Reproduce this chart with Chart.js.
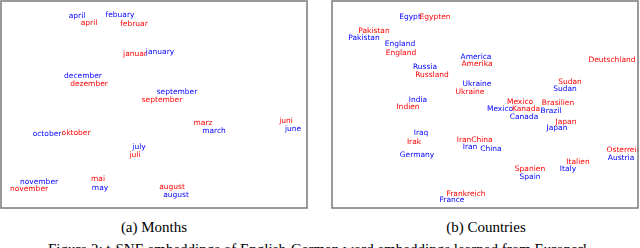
<!DOCTYPE html>
<html><head><meta charset="utf-8">
<script src="https://cdn.jsdelivr.net/npm/chart.js@4/dist/chart.umd.min.js"></script>
<style>
body{margin:0;width:640px;height:248px;background:#fff;position:relative;overflow:hidden}
.p{position:absolute;top:0;width:308px;height:210px}
.cap{position:absolute;font-family:"Liberation Serif","Times New Roman",serif;font-size:15px;line-height:15px;color:#000;white-space:nowrap}
</style></head><body>
<div class="p" style="left:0"><canvas id="a" width="308" height="210"></canvas></div>
<div class="p" style="left:331px"><canvas id="b" width="308" height="210"></canvas></div>
<div class="cap" style="left:154px;top:220px;transform:translateX(-50%)">(a) Months</div>
<div class="cap" style="left:486px;top:220px;transform:translateX(-50%)">(b) Countries</div>
<div class="cap" style="left:48px;top:242px">Figure 2: t-SNE embeddings of English-German word embeddings learned from Europarl</div>
<script>
const monthsEn = ['april','febuary','january','december','september','october','july','november','may','march','june','august'];
const monthsEnX = [76,119,159,82,176,46,138,38,99,213,292,175];
const monthsEnY = [192,193,156,132,116,74,61,26,20,77,79,13];
const monthsDe = ['april','februar','januar','dezember','september','oktober','juli','november','mai','marz','juni','august'];
const monthsDeX = [88,133,134,88,161,75,134,28,97,202,285,171];
const monthsDeY = [185,184,154,124,108,75,53,19,29,85,87,21];

const countriesEn = ['Egypt','Pakistan','England','Russia','America','Ukraine','Sudan','India','Mexico','Canada','Brazil','Japan','Iraq','Iran','China','Germany','Austria','Italy','Spain','France'];
const countriesEnX = [78,32,68,93,144,145,233,86,168,192,219,225,89,138,159,85,289,236,198,120];
const countriesEnY = [191,170,164,141,151,124,119,108,99,91,97,80,75,61,59,53,50,39,31,8];
const countriesDe = ['Egypten','Pakistan','England','Russland','Amerika','Ukraine','Deutschland','Sudan','Indien','Mexico','Brasilien','Kanada','Japan','Irak','Iran','China','Osterreich','Italien','Spanien','Frankreich'];
const countriesDeX = [103,42,69,100,145,138,280,238,76,188,226,194,234,82,132,150,294,246,198,134];
const countriesDeY = [191,177,155,133,144,116,148,126,101,106,105,99,86,66,68,68,58,46,39,14];

const BLUE = 'rgb(0,0,255)', RED = 'rgb(255,0,0)';

function pts(xs, ys){ return xs.map((x,i)=>({x:x, y:ys[i]})); }

const wordPlugin = {
  id:'words',
  afterDatasetsDraw(chart){
    const ctx = chart.ctx, ca = chart.chartArea;
    ctx.save();
    ctx.beginPath(); ctx.rect(ca.left, ca.top, ca.right-ca.left, ca.bottom-ca.top); ctx.clip();
    ctx.font = '7.5px "DejaVu Sans", sans-serif';
    ctx.textAlign = 'center'; ctx.textBaseline = 'middle';
    chart.data.datasets.forEach((ds, i) => {
      const meta = chart.getDatasetMeta(i);
      ctx.fillStyle = ds.textColor;
      meta.data.forEach((el, j) => { ctx.fillText(ds.words[j], el.x, el.y); });
    });
    ctx.restore();
    ctx.save();
    ctx.strokeStyle = '#7a7a7a'; ctx.lineWidth = 1.5;
    ctx.strokeRect(ca.left, ca.top, ca.right-ca.left, ca.bottom-ca.top);
    ctx.restore();
  }
};

function make(id, enW, enX, enY, deW, deX, deY){
  new Chart(document.getElementById(id), {
    type:'scatter',
    data:{datasets:[
      {label:'English', words:enW, textColor:BLUE, data:pts(enX,enY), pointRadius:0, pointHoverRadius:0},
      {label:'German', words:deW, textColor:RED, data:pts(deX,deY), pointRadius:0, pointHoverRadius:0}
    ]},
    options:{
      responsive:false, animation:false, devicePixelRatio:1,
      layout:{padding:{left:1, top:1, right:1, bottom:2}},
      plugins:{legend:{display:false}, tooltip:{enabled:false}},
      scales:{
        x:{type:'linear', min:0, max:306, display:false},
        y:{type:'linear', min:0, max:207, display:false}
      }
    },
    plugins:[wordPlugin]
  });
}
make('a', monthsEn, monthsEnX, monthsEnY, monthsDe, monthsDeX, monthsDeY);
make('b', countriesEn, countriesEnX, countriesEnY, countriesDe, countriesDeX, countriesDeY);
</script>
</body></html>
